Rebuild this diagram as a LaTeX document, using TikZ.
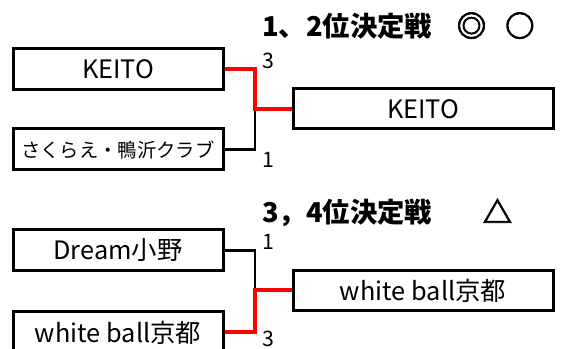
\documentclass[tikz,border=0pt]{standalone}
\usepackage{fontspec}
\setmainfont{Noto Sans CJK JP}
\newfontfamily\markfont[FakeBold=2.5]{Noto Sans CJK JP}
\usetikzlibrary{positioning}
\tikzstyle{team}=[draw, line width=2.25pt, inner sep=0pt, minimum width=157.5pt, minimum height=30.75pt, font=\fontsize{19}{21}\selectfont]
\tikzstyle{winner}=[team, minimum width=195pt, minimum height=30pt]
\tikzstyle{edge}=[line width=1.9pt, black]
\tikzstyle{redge}=[line width=3pt, red]
\tikzstyle{score}=[anchor=west, inner sep=0pt, font=\fontsize{16}{17}\selectfont]
\tikzstyle{title}=[anchor=west, inner sep=0pt, font=\bfseries\fontsize{20.5}{22}\selectfont]

\begin{document}
\begin{tikzpicture}[x=0.75pt, y=-0.75pt]
			\useasboundingbox (0,0) rectangle (562,349);

			% 1,2 final
			\node[title] (t1) at (262,26) {1、2位決定戦\hspace{0.9em}{\markfont\fontsize{22}{24}\selectfont◎\hspace{0.65em}○}};
			\node[team] (p1) at (118,69) {KEITO};
			\node[team, font=\fontsize{14.5}{16}\selectfont] (p2) at (118,149.5) {さくらえ・鴨沂クラブ};
			\node[winner] (w1) at (423,109) {KEITO};
			\coordinate (m1) at (255,109);
			\draw[edge] (p2.east) -| (m1);
			\draw[redge] (p1.east) -| (m1) -- (w1.west);
			\node[score] (s11) at (262,61) {3};
			\node[score] (s12) at (262,160) {1};

			% 3,4 final
			\node[title] (t2) at (262,213) {3，4位決定戦\hspace{1.85em}{\markfont\fontsize{22}{24}\selectfont△}};
			\node[team] (p3) at (118,250.5) {Dream小野};
			\node[team] (p4) at (118,332.5) {white ball京都};
			\node[winner] (w2) at (423,290.5) {white ball京都};
			\coordinate (m2) at (255,290.5);
			\draw[edge] (p3.east) -| (m2);
			\draw[redge] (p4.east) -| (m2) -- (w2.west);
			\node[score] (s21) at (262,242) {1};
			\node[score] (s22) at (262,339) {3};
		\end{tikzpicture}
\end{document}
